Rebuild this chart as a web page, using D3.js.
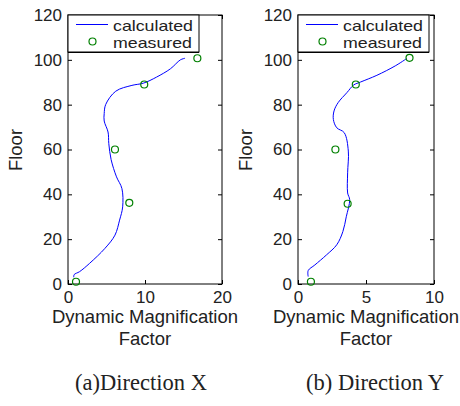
<!DOCTYPE html>
<html>
<head>
<meta charset="utf-8">
<script src="https://cdn.jsdelivr.net/npm/d3@7"></script>
<style>
body { margin: 0; background: #fff; }
text { font-family: "Liberation Sans", Arial, sans-serif; fill: #222; }
</style>
</head>
<body>
<script>
// direction X
var calcX = [[0.75, 3], [0.8, 4.2], [1.5, 5.5], [2.8, 9.2], [4.8, 15.9], [6.1, 21.8], [6.7, 28.5], [7.1, 34.4],
    [7.0, 42.6], [6.3, 47.8], [5.6, 55.5], [5.3, 62.6], [5.2, 67.8], [4.7, 72.7], [4.7, 76], [4.9, 80.1],
    [6.2, 86], [8.3, 88.6], [9.8, 89.6], [11.5, 92.3], [13.3, 96], [14.6, 100], [15.2, 100.7]];
var measX = [[1.04, 1], [7.96, 36.2], [6.1, 60], [9.9, 89], [16.8, 100.7]];
// direction Y
var calcY = [[0.75, 3.3], [0.75, 6], [1.24, 8.5], [2.1, 13], [2.85, 17.5], [3.3, 23.4], [3.55, 30], [3.8, 37.6],
    [3.65, 40.6], [3.65, 49.6], [3.7, 59.3], [3.4, 67.5], [2.85, 69.7], [2.6, 73.4], [2.65, 77.2], [2.95, 80.9],
    [3.6, 85.4], [4.1, 88.8], [4.6, 90.1], [5.8, 93.1], [7.15, 97.3], [8.0, 100.6]];
var measY = [[0.95, 1], [3.65, 35.8], [2.75, 60], [4.25, 89], [8.2, 100.9]];

var floorTicks = [0, 20, 40, 60, 80, 100, 120];
var xTicksA = [0, 10, 20];
var xTicksB = [0, 5, 10];

var w = 460, h = 406;
var svg = d3.select("body").append("svg").attr("width", w).attr("height", h);

function panel(left, right, xmax, xticks, calc, meas, caption, capX) {
    var top = 15, bottom = 284;
    var x = d3.scaleLinear().domain([0, xmax]).range([left, right]);
    var y = d3.scaleLinear().domain([0, 120]).range([bottom, top]);
    var g = svg.append("g");

    g.append("rect").attr("x", left).attr("y", top).attr("width", right - left).attr("height", bottom - top)
        .attr("fill", "none").attr("stroke", "#000").attr("stroke-width", 1);

    // ticks inside, all four sides
    g.append("g").attr("transform", "translate(" + left + ",0)")
        .call(d3.axisLeft(y).tickValues(floorTicks).tickSize(-4).tickPadding(6))
        .call(function (a) { a.select(".domain").remove(); a.selectAll("text").style("font-size", "17px").attr("fill", "#222"); });
    g.append("g").attr("transform", "translate(" + right + ",0)")
        .call(d3.axisRight(y).tickValues(floorTicks).tickSize(-4).tickFormat(""))
        .call(function (a) { a.select(".domain").remove(); });
    g.append("g").attr("transform", "translate(0," + bottom + ")")
        .call(d3.axisBottom(x).tickValues(xticks).tickSize(-4).tickPadding(7))
        .call(function (a) { a.select(".domain").remove(); a.selectAll("text").style("font-size", "17px").attr("fill", "#222"); });
    g.append("g").attr("transform", "translate(0," + top + ")")
        .call(d3.axisTop(x).tickValues(xticks).tickSize(-4).tickFormat(""))
        .call(function (a) { a.select(".domain").remove(); });

    var line = d3.line().x(function (d) { return x(d[0]); }).y(function (d) { return y(d[1]); }).curve(d3.curveCatmullRom);
    g.append("path").datum(calc).attr("d", line).attr("fill", "none").attr("stroke", "#0000ff").attr("stroke-width", 1);

    g.selectAll("circle").data(meas).enter().append("circle")
        .attr("cx", function (d) { return x(d[0]); })
        .attr("cy", function (d) { return y(d[1]); })
        .attr("r", 3.5).attr("fill", "none").attr("stroke", "#008000").attr("stroke-width", 1.2);

    // legend
    var lx = left, ly = top, lw = 131, lh = 37;
    g.append("rect").attr("x", lx).attr("y", ly).attr("width", lw).attr("height", lh)
        .attr("fill", "#fff").attr("stroke", "#000").attr("stroke-width", 1);
    g.append("line").attr("x1", lx).attr("x2", lx + lw).attr("y1", ly + lh + 0.5).attr("y2", ly + lh + 0.5)
        .attr("stroke", "#000").attr("stroke-width", 1);
    g.append("line").attr("x1", lx + 8).attr("x2", lx + 40).attr("y1", ly + 9.5).attr("y2", ly + 9.5)
        .attr("stroke", "#0000ff").attr("stroke-width", 1);
    g.append("circle").attr("cx", lx + 24.5).attr("cy", ly + 26.5).attr("r", 3.5)
        .attr("fill", "none").attr("stroke", "#008000").attr("stroke-width", 1.2);
    g.append("text").attr("x", lx + 45).attr("y", ly + 16).style("font-size", "14.8px")
        .attr("textLength", 80).attr("lengthAdjust", "spacingAndGlyphs").text("calculated");
    g.append("text").attr("x", lx + 45).attr("y", ly + 33).style("font-size", "14.8px")
        .attr("textLength", 79).attr("lengthAdjust", "spacingAndGlyphs").text("measured");

    // axis labels
    var cx = (left + right) / 2;
    g.append("text").attr("x", cx).attr("y", 323).attr("text-anchor", "middle").style("font-size", "18.5px")
        .text("Dynamic Magnification");
    g.append("text").attr("x", cx).attr("y", 345).attr("text-anchor", "middle").style("font-size", "18.5px")
        .text("Factor");
    g.append("text").attr("transform", "translate(" + (left - 46) + ",150) rotate(-90)")
        .attr("text-anchor", "middle").style("font-size", "18.5px").text("Floor");

    g.append("text").attr("x", capX).attr("y", 390).attr("text-anchor", "middle")
        .style("font-family", "'Liberation Serif', 'Times New Roman', serif").style("font-size", "22.5px")
        .text(caption);
}

panel(68, 222, 20, xTicksA, calcX, measX, "(a)Direction X", 141);
panel(298, 434, 10, xTicksB, calcY, measY, "(b) Direction Y", 375);
</script>
</body>
</html>
